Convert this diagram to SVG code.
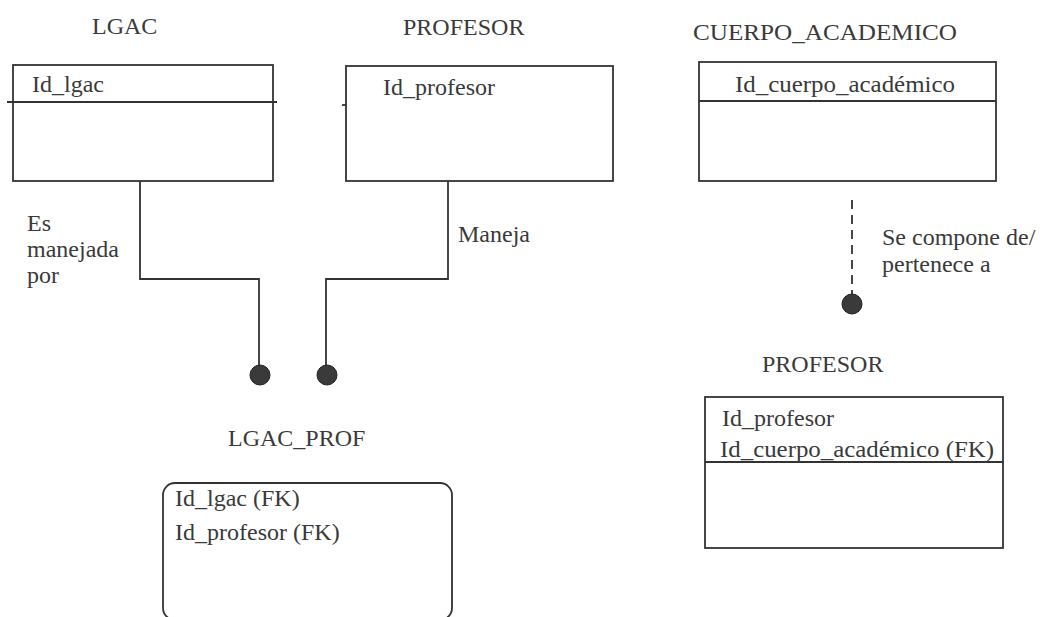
<svg xmlns="http://www.w3.org/2000/svg" width="1044" height="617" viewBox="0 0 1044 617">
<style>
text{font-family:"Liberation Serif","Times New Roman",serif;font-size:24px;fill:#3a3a3a}
.box{fill:none;stroke:#333;stroke-width:1.8}
.ln{fill:none;stroke:#333;stroke-width:1.8}
.dash{fill:none;stroke:#333;stroke-width:1.8;stroke-dasharray:9,6}
.dot{fill:#3a3a3a;stroke:#222;stroke-width:1}
</style>
<rect width="1044" height="617" fill="#fff"/>
<g id="lgac">
<text x="92" y="34">LGAC</text>
<rect class="box" x="13" y="65" width="260" height="116"/>
<line class="ln" x1="7" y1="102" x2="277" y2="102"/>
<text x="32" y="92">Id_lgac</text>
</g>
<g id="profesor">
<text x="403" y="35">PROFESOR</text>
<rect class="box" x="346" y="66" width="267" height="115"/>
<line class="ln" x1="342" y1="105" x2="346" y2="105"/>
<text x="383" y="95">Id_profesor</text>
</g>
<g id="cuerpo_academico">
<text x="693" y="40" textLength="264" lengthAdjust="spacingAndGlyphs">CUERPO_ACADEMICO</text>
<rect class="box" x="699" y="62" width="297" height="119"/>
<line class="ln" x1="699" y1="101" x2="996" y2="101"/>
<text x="735" y="92" textLength="220" lengthAdjust="spacingAndGlyphs">Id_cuerpo_académico</text>
</g>
<g id="lgac_prof">
<text x="228" y="446">LGAC_PROF</text>
<rect class="box" x="163" y="483" width="289" height="137" rx="12" ry="12"/>
<text x="175" y="506">Id_lgac (FK)</text>
<text x="175" y="540">Id_profesor (FK)</text>
</g>
<g id="profesor2">
<text x="762" y="372">PROFESOR</text>
<rect class="box" x="705" y="397" width="298" height="151"/>
<line class="ln" x1="705" y1="462" x2="1003" y2="462"/>
<text x="722" y="426">Id_profesor</text>
<text x="720" y="457" textLength="274" lengthAdjust="spacingAndGlyphs">Id_cuerpo_académico (FK)</text>
</g>
<g id="connectors">
<polyline class="ln" points="140,181 140,279 259,279 259,366"/>
<circle class="dot" cx="260" cy="375" r="10"/>
<polyline class="ln" points="448,181 448,279 326,279 326,366"/>
<circle class="dot" cx="327" cy="375" r="10"/>
<line class="dash" x1="852" y1="200" x2="852" y2="294"/>
<circle class="dot" cx="852" cy="304" r="10"/>
<text x="27" y="231">Es</text>
<text x="27" y="257">manejada</text>
<text x="27" y="283">por</text>
<text x="458" y="242">Maneja</text>
<text x="882" y="245">Se compone de/</text>
<text x="882" y="272">pertenece a</text>
</g>
</svg>
